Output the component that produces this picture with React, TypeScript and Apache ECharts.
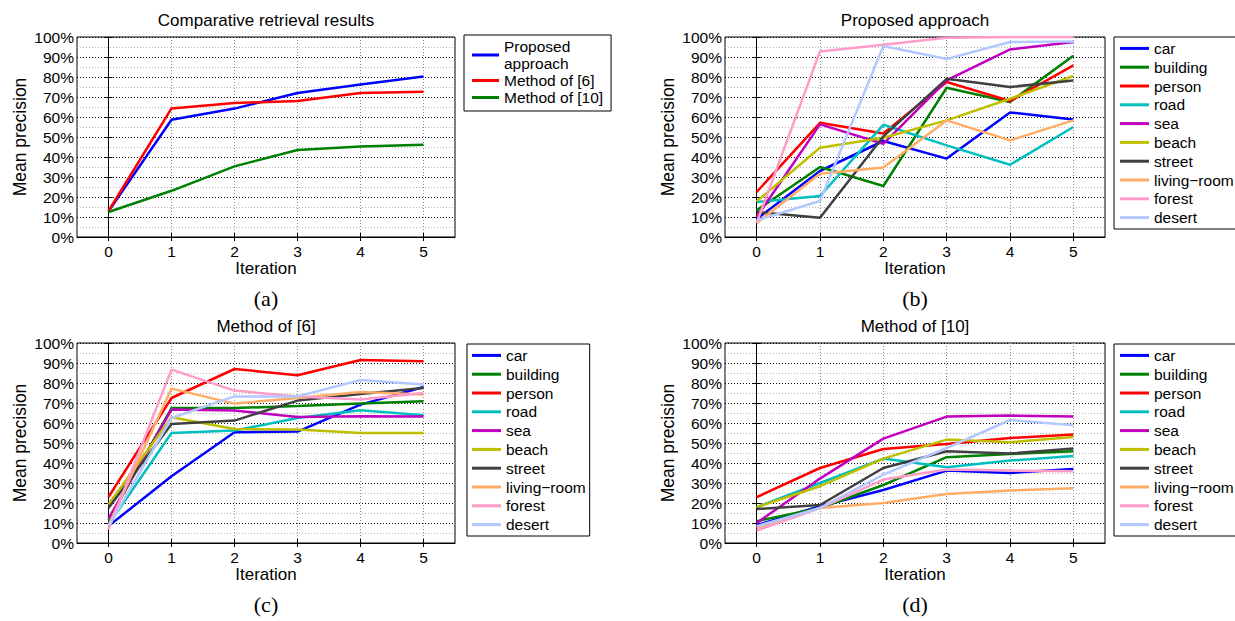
import React, { useEffect, useRef } from "react";
import * as echarts from "echarts";

const ITER = [0, 1, 2, 3, 4, 5];
const Y_TICKS_MAX = 100;

const METHODS = ["Proposed approach", "Method of [6]", "Method of [10]"];
const METHOD_COLORS = ["#0000ff", "#ff0000", "#008000"];
const proposedMean = [12.8, 58.6, 64.2, 72.0, 76.2, 80.2];
const method6Mean = [13.0, 64.3, 67.0, 68.0, 72.0, 72.6];
const method10Mean = [12.5, 23.1, 35.3, 43.5, 45.3, 46.1];

const CLASSES = ["car", "building", "person", "road", "sea", "beach", "street", "living\u2212room", "forest", "desert"];
const CLASS_COLORS = ["#0000ff", "#008000", "#ff0000", "#00bfbf", "#bf00bf", "#bfbf00", "#404040", "#ffac66", "#ff9cc8", "#b3c8ff"];

// Proposed approach (b)
const propCar = [9, 33, 48, 39.2, 62.3, 58.8];
const propBuilding = [13.3, 35, 25.5, 74.6, 67.5, 90.6];
const propPerson = [22.5, 57.1, 51.8, 77.5, 68, 85.8];
const propRoad = [17.5, 20.5, 56.1, 45.8, 36.1, 55];
const propSea = [10, 56.3, 46.6, 78.3, 93.8, 97.5];
const propBeach = [17.8, 44.6, 49.6, 58.3, 69.1, 80.5];
const propStreet = [12.5, 9.6, 50.3, 79.1, 75, 78.3];
const propLiving = [7, 31.6, 34.8, 58.3, 48.3, 58.3];
const propForest = [7, 92.8, 96.1, 99.6, 100, 100];
const propDesert = [8.3, 18, 95.5, 89, 97.5, 97.8];

// Method of [6] (c)
const m6Car = [8.5, 33.4, 55.4, 55.7, 69.2, 78];
const m6Building = [11.2, 67.5, 67.5, 68.5, 69.7, 70.9];
const m6Person = [23, 72.5, 87, 83.9, 91.5, 90.9];
const m6Road = [9.2, 55, 56.2, 62.5, 66.4, 63.9];
const m6Sea = [12.2, 66.7, 66.2, 63, 63.4, 63.2];
const m6Beach = [19.2, 62.9, 57, 56.7, 55, 55];
const m6Street = [17.5, 59.5, 61.2, 71.2, 74.5, 77.5];
const m6Living = [8.9, 77.2, 69.7, 72.5, 75.5, 74.2];
const m6Forest = [6.7, 86.7, 76.2, 73.3, 71.7, 75];
const m6Desert = [8.4, 62.5, 73.3, 73.3, 81.5, 79.2];

// Method of [10] (d)
const m10Car = [8.9, 18.4, 26.5, 36.2, 35, 37];
const m10Building = [10.9, 17.5, 29, 42.9, 44.5, 45.9];
const m10Person = [22.9, 37.5, 47, 49.5, 52.5, 54.2];
const m10Road = [17.9, 30, 42.2, 37.9, 41.2, 43.5];
const m10Sea = [10, 32.2, 52.2, 63.2, 63.7, 63.2];
const m10Beach = [17.9, 28.4, 42.2, 51.7, 50.4, 53];
const m10Street = [17, 19, 37.5, 45.9, 44.7, 47.2];
const m10Living = [7.5, 17.5, 20, 24.5, 26.2, 27.4];
const m10Forest = [6.2, 17.5, 31.7, 36.7, 36.2, 35.9];
const m10Desert = [8.4, 17.5, 34.2, 47.5, 61.5, 58.9];

const TITLES = ["Comparative retrieval results", "Proposed approach", "Method of [6]", "Method of [10]"];
const CAPTIONS = ["(a)", "(b)", "(c)", "(d)"];

const SANS = "Liberation Sans, Arial, Helvetica, sans-serif";
const SERIF = "Liberation Serif, Times New Roman, serif";

const GRIDS = [
  { left: 77, top: 37, width: 378, height: 200 },
  { left: 725, top: 37, width: 380, height: 200 },
  { left: 77, top: 343, width: 378, height: 200 },
  { left: 725, top: 343, width: 380, height: 200 },
];

function buildOption() {
  const grid = GRIDS.map((g) => ({
    ...g,
    show: true,
    borderColor: "#000",
    borderWidth: 1,
    backgroundColor: "#fff",
    containLabel: false,
  }));
  const xAxis: any[] = [];
  const yAxis: any[] = [];
  GRIDS.forEach((_, gi) => {
    xAxis.push({
      type: "value",
      gridIndex: gi,
      min: -0.5,
      max: 5.5,
      position: "bottom",
      axisLine: { show: true, onZero: false, lineStyle: { color: "#000", width: 1 } },
      axisTick: { show: true, inside: true, length: 4, customValues: ITER, lineStyle: { color: "#000" } },
      axisLabel: { show: true, customValues: ITER, fontSize: 15.5, color: "#000", fontFamily: SANS, margin: 6 },
      splitLine: { show: true, lineStyle: { color: "#8c8c8c", type: [1, 2], width: 1 } },
      name: "Iteration",
      nameLocation: "middle",
      nameGap: 19,
      nameTextStyle: { fontSize: 17, color: "#000", fontFamily: SANS },
    });
    xAxis.push({
      type: "value",
      gridIndex: gi,
      min: -0.5,
      max: 5.5,
      position: "top",
      axisLine: { show: false },
      axisTick: { show: true, inside: true, length: 4, customValues: ITER, lineStyle: { color: "#000" } },
      axisLabel: { show: false, customValues: ITER },
      splitLine: { show: false },
    });
    yAxis.push({
      type: "value",
      gridIndex: gi,
      min: 0,
      max: Y_TICKS_MAX,
      interval: 10,
      position: "left",
      axisLine: { show: true, lineStyle: { color: "#000", width: 1 } },
      axisTick: { show: true, inside: true, length: 4, lineStyle: { color: "#000" } },
      axisLabel: {
        show: true,
        formatter: "{value}%",
        fontSize: 15.5,
        color: "#000",
        fontFamily: SANS,
        margin: 3,
        showMinLabel: true,
        showMaxLabel: true,
      },
      splitLine: { show: true, lineStyle: { color: "#000", type: [1, 2], width: 1 } },
      minorTick: { show: false, splitNumber: 2 },
      minorSplitLine: { show: true, lineStyle: { color: "#b4b4b4", type: [1, 2], width: 1 } },
      name: "Mean precision",
      nameLocation: "middle",
      nameGap: 48,
      nameRotate: 90,
      nameTextStyle: { fontSize: 17.5, color: "#000", fontFamily: SANS },
    });
    yAxis.push({
      type: "value",
      gridIndex: gi,
      min: 0,
      max: Y_TICKS_MAX,
      interval: 10,
      position: "right",
      axisLine: { show: false },
      axisTick: { show: true, inside: true, length: 4, lineStyle: { color: "#000" } },
      axisLabel: { show: false },
      splitLine: { show: false },
    });
  });

  const series: any[] = [];
  const addLine = (gi: number, name: string, color: string, vals: number[]) => {
    series.push({
      type: "line",
      name,
      xAxisIndex: gi * 2,
      yAxisIndex: gi * 2,
      data: ITER.map((x, i) => [x, vals[i]]),
      symbol: "none",
      color,
      lineStyle: { color, width: 2.5 },
      itemStyle: { color },
      emphasis: { disabled: true },
    });
  };
  const aVals = [proposedMean, method6Mean, method10Mean];
  METHODS.forEach((m, i) => addLine(0, m, METHOD_COLORS[i], aVals[i]));
  const bVals = [propCar, propBuilding, propPerson, propRoad, propSea, propBeach, propStreet, propLiving, propForest, propDesert];
  const cVals = [m6Car, m6Building, m6Person, m6Road, m6Sea, m6Beach, m6Street, m6Living, m6Forest, m6Desert];
  const dVals = [m10Car, m10Building, m10Person, m10Road, m10Sea, m10Beach, m10Street, m10Living, m10Forest, m10Desert];
  CLASSES.forEach((c, i) => addLine(1, c, CLASS_COLORS[i], bVals[i]));
  CLASSES.forEach((c, i) => addLine(2, c, CLASS_COLORS[i], cVals[i]));
  CLASSES.forEach((c, i) => addLine(3, c, CLASS_COLORS[i], dVals[i]));

  const legendBase = {
    orient: "vertical",
    icon: "rect",
    itemHeight: 3,
    itemGap: 0,
    selectedMode: false,
    borderColor: "#000",
    borderWidth: 1,
    backgroundColor: "#fff",
    borderRadius: 0,
  };
  const legend = [
    {
      ...legendBase,
      left: 464,
      top: 35,
      padding: [3, 8, 5, 8],
      itemWidth: 27,
      data: METHODS,
      formatter: (n: string) => (n === "Proposed approach" ? "Proposed\napproach" : n),
      textStyle: { fontSize: 15.5, lineHeight: 17, color: "#000", fontFamily: SANS },
    },
    {
      ...legendBase,
      left: 1114,
      top: 37,
      padding: [2, 4, 2, 6],
      itemWidth: 29,
      data: CLASSES,
      textStyle: { fontSize: 15.5, lineHeight: 18.8, color: "#000", fontFamily: SANS },
    },
    {
      ...legendBase,
      left: 467,
      top: 344,
      padding: [2, 4, 2, 5],
      itemWidth: 29,
      data: CLASSES,
      textStyle: { fontSize: 15.5, lineHeight: 18.8, color: "#000", fontFamily: SANS },
    },
    {
      ...legendBase,
      left: 1114,
      top: 344,
      padding: [2, 4, 2, 6],
      itemWidth: 29,
      data: CLASSES,
      textStyle: { fontSize: 15.5, lineHeight: 18.8, color: "#000", fontFamily: SANS },
    },
  ];

  const graphic: any[] = [];
  GRIDS.forEach((g, gi) => {
    const cx = g.left + g.width / 2;
    graphic.push({
      type: "text",
      x: cx,
      y: g.top - 17,
      style: { text: TITLES[gi], fontSize: 17, fontFamily: SANS, fill: "#000", align: "center", verticalAlign: "middle" },
    });
    graphic.push({
      type: "text",
      x: cx,
      y: g.top + 261,
      style: { text: CAPTIONS[gi], fontSize: 22, fontFamily: SERIF, fill: "#000", align: "center", verticalAlign: "middle" },
    });
  });

  return {
    animation: false,
    backgroundColor: "#fff",
    grid,
    xAxis,
    yAxis,
    series,
    legend,
    graphic,
  };
}

export default function App() {
  const ref = useRef<HTMLDivElement>(null);
  useEffect(() => {
    if (!ref.current) return;
    const chart = echarts.init(ref.current, undefined, { renderer: "svg" });
    chart.setOption(buildOption() as any);
    return () => chart.dispose();
  }, []);
  return (
    <div
      ref={ref}
      style={{ position: "absolute", left: 0, top: 0, width: 1235, height: 621, background: "#fff" }}
    />
  );
}
